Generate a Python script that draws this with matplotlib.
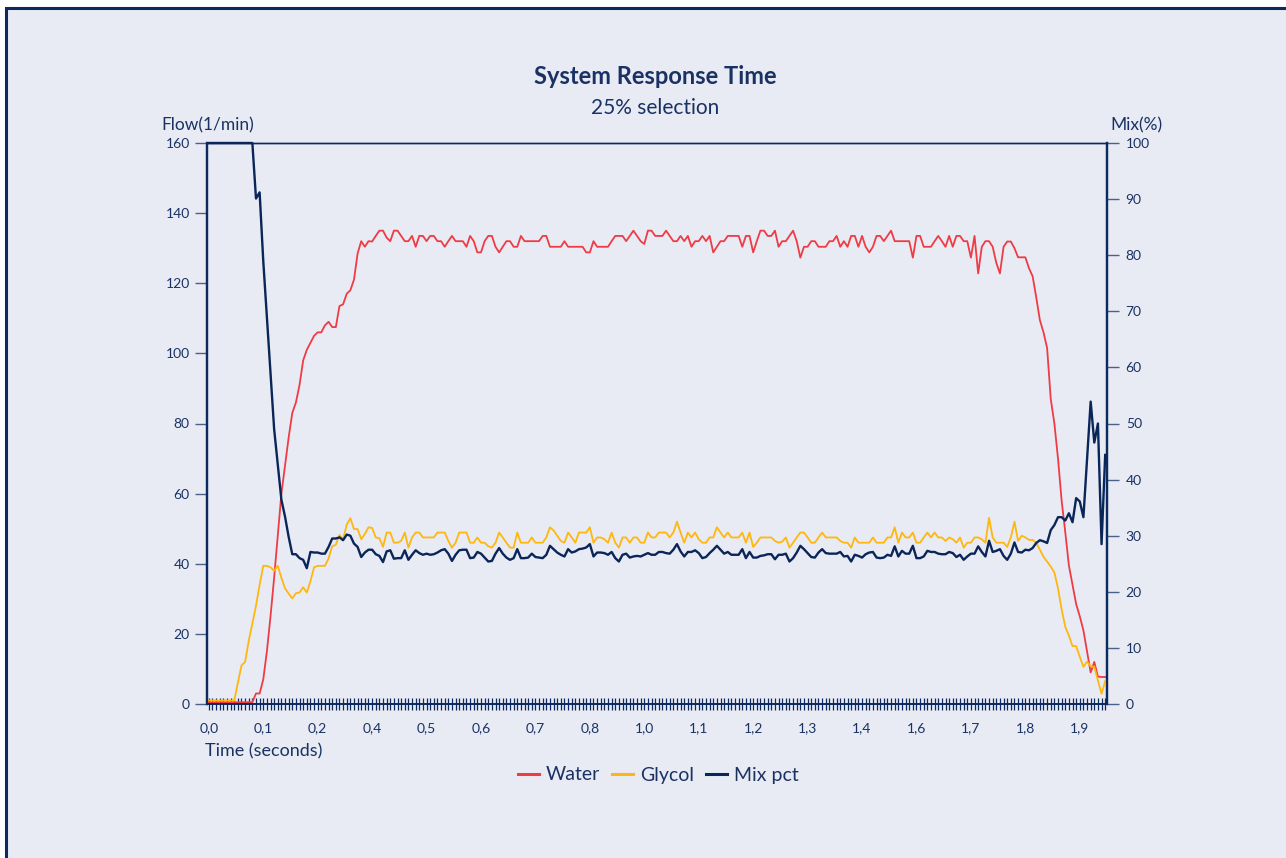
import matplotlib
matplotlib.use("Agg")
import matplotlib.pyplot as plt
from matplotlib.patches import Rectangle
from matplotlib.lines import Line2D

#%% data (one value per sample)
time_labels = ['0,0', '0,1', '0,2', '0,4', '0,5', '0,6', '0,7', '0,8', '1,0',
               '1,1', '1,2', '1,3', '1,4', '1,6', '1,7', '1,8', '1,9']
label_step = 15

water = [0.5, 0.5, 0.5, 0.5, 0.5, 0.5, 0.5, 0.5, 0.5, 0.5, 0.5, 0.5, 0.5,
         3, 3, 7, 15, 25, 36, 48, 60, 68, 76, 83,
         86, 91, 98, 101, 103, 105, 106, 106, 108, 109,
         107.5, 107.5, 113.5, 114, 117, 118, 121, 128.5, 132, 130.4,
         132, 131.9, 133.5, 135, 135, 133, 132, 135, 135, 133.5,
         132, 132, 133.5, 130.4, 133.5, 133.5, 132, 133.5, 133.5, 132,
         132, 130.4, 132, 133.5, 132, 132, 132, 130.4, 133.5, 132,
         128.8, 128.8, 132, 133.5, 133.5, 130.4, 128.8, 130.4, 132, 132,
         130.4, 130.4, 133.5, 132, 132, 132, 132, 132, 133.5, 133.5,
         130.4, 130.4, 130.4, 130.4, 132, 130.4, 130.4, 130.4, 130.4, 130.4,
         128.8, 128.8, 132, 130.4, 130.4, 130.4, 130.4, 132, 133.5, 133.5,
         133.5, 132, 133.5, 135, 133.5, 132, 131.2, 135, 135, 133.5,
         133.5, 133.5, 135, 133.5, 132, 132, 133.5, 132, 133.5, 130.4,
         132, 132,
         133.5, 132, 133.5, 128.8, 130.4, 132, 132, 133.5, 133.5, 133.5,
         133.5, 130.4, 133.5, 133.5, 128.8, 132, 135, 135, 133.5, 133.5,
         135, 130.4, 132, 132, 133.5, 135, 132, 127.3, 130.4, 130.4,
         132, 132, 130.4, 130.4, 130.4, 132, 132, 133.5, 130.4, 132,
         130.4, 133.5, 133.5, 130.4, 133.5, 130.4, 128.8, 130.4, 133.5, 133.5,
         132, 133.5, 135, 132, 132, 132, 132, 132, 127.3, 133.5,
         133.5, 130.4, 130.4, 130.4, 132, 133.5, 132, 130.4, 133.5, 130.4,
         133.5, 133.5, 132, 132, 127.3, 133.5, 122.8, 130.4, 132, 132,
         130.4, 125.8, 122.8, 130.4, 131.9, 131.9, 130, 127.4, 127.4, 127.4,
         124.3, 122, 116, 109.5, 106, 101.5, 87, 80, 70, 58,
         49, 39.5, 34, 28.5, 25, 21, 15, 9, 12, 7.8, 7.7, 7.7]

glycol = [1, 1, 1, 1, 1, 1, 1, 1,
          6, 11, 12, 18, 23, 28, 34, 39.4, 39.4, 39,
          38, 39.4, 36, 33, 31.5, 30.1, 31.6, 31.8, 33.3, 31.8,
          35, 39, 39.4, 39.4, 39.4, 41.5, 45, 45.4, 48.2, 47,
          51.1, 53, 49.9, 49.9, 47, 48.5,
          50.4, 50.2, 47.5, 47.3, 44.8, 48.9, 48.9, 46, 46, 46.5,
          48.9, 44.6, 47.5, 48.9, 48.9, 47.5, 47.5, 47.5, 47.5, 48.9,
          48.9, 48.9, 46.5, 44.6, 46, 48.9, 48.9, 48.9, 46, 46,
          47.5, 46, 46, 45, 44.6, 46, 48.9, 47.5, 46, 44.6,
          44.6, 48.9, 46, 46, 46, 47.5, 46, 46, 46, 47.5,
          50.4, 49.5, 48, 46.5, 46, 48.9, 47.5, 46, 48.9, 48.9,
          48.9, 50.4, 46, 47.5, 47.5, 47, 46, 48.9, 46, 44.6,
          47.5, 47.5, 46, 47.5, 47.5, 46, 46, 48.9, 47.5, 47.5,
          48.9, 48.9, 48.9, 47.5, 48.9, 52, 48.9, 46, 48.9, 47.5,
          48.9, 47,
          46, 46, 47.5, 47.5, 50.4, 48.9, 47.5, 48.9, 47.5, 47.5,
          47.5, 48.9, 46, 48.9, 44.8, 46, 47.5, 47.5, 47.5, 47.5,
          46.5, 46, 46.3, 47.5, 44.6, 46, 47.5, 48.9, 48.9, 47.5,
          46, 46, 47.5, 48.9, 47.5, 47.5, 47.5, 47.5, 46.5, 46,
          46, 44.6, 47.5, 46, 46, 46, 46, 47.5, 46, 46,
          46, 47.5, 47.5, 50.4, 46, 48.9, 47.5, 47.5, 48.9, 46,
          46, 47.5, 48.9, 47.5, 48.9, 47.5, 47.5, 46.5, 47.5, 47,
          46, 47.5, 44.6, 46, 46, 47.5, 47.5, 47, 46, 53.1,
          47.5, 46, 46, 46, 44.8, 47.5, 52, 46.5,
          48, 47.5, 46.8, 46.8, 46, 44, 42, 40.6, 39.2, 37.5, 33, 27,
          22, 19.5, 16.5, 16.5, 13.5, 10.6, 12.1, 10.8, 10.6, 6.8, 2.9, 6.5]

mix_pct = [100, 100, 100, 100, 100, 100, 100, 100, 100, 100, 100, 100, 100,
           90.1, 91.2, 79, 69, 59, 49, 42.7, 36.4, 33.4, 29.8,
           26.7, 26.7, 26, 25.7, 24.2, 27.1, 27, 27, 26.8, 26.8,
           28, 29.5, 29.5, 29.7, 29.2, 30.2, 30, 28.6, 28, 26.2, 27,
           27.5, 27.5, 26.7, 26.4, 25.3, 27.2, 27.4, 25.9, 26, 26,
           27.4, 25.7, 26.6, 27.4, 26.9, 26.6, 26.8, 26.6, 26.7, 27,
           27.4, 27.6, 26.8, 25.5, 26.6, 27.4, 27.5, 27.5, 26, 26.1,
           27.1, 26.8, 26.1, 25.4, 25.5, 26.8, 27.8, 26.8, 26.1, 25.7,
           26, 27.6, 26, 26, 26.1, 26.8, 26.2, 26.1, 26, 26.6,
           28.2, 27.6, 27, 26.6, 26.3, 27.6, 27, 27.2, 27.6, 27.7,
           27.9, 28.5, 26.3, 27, 27, 26.9, 26.6, 27.1, 26, 25.4,
           26.6, 26.8, 26.1, 26.3, 26.4, 26.3, 26.6, 26.9, 26.6, 26.6,
           27.1, 27.1, 26.9, 26.8, 27.5, 28.5, 27.2, 26.3, 27.1, 27.1,
           27.4, 26.9,
           26, 26.2, 26.9, 27.5, 28.2, 27.5, 26.8, 27.1, 26.6, 26.6,
           26.6, 27.6, 26, 27.1, 26.1, 26.1, 26.4, 26.5, 26.7, 26.7,
           25.8, 26.6, 26.6, 26.8, 25.4, 26, 27, 28.2, 27.6, 26.9,
           26.2, 26.1, 27, 27.6, 26.9, 26.8, 26.8, 26.8, 27.1, 26.3,
           26.4, 25.4, 26.6, 26.4, 26.1, 26.7, 27, 27.1, 26.1, 26,
           26.1, 26.6, 26.4, 28.1, 26.3, 27.3, 26.8, 26.8, 28.2, 26,
           26, 26.3, 27.3, 27.1, 27.1, 26.8, 26.7, 26.7, 27.1, 26.9,
           26.2, 26.6, 25.7, 26.3, 26.8, 26.8, 28.1, 27.1, 26.3, 29.1,
           27.1, 27.3, 27.6, 26.4, 25.7, 26.8, 28.8, 27.1,
           27, 27.5, 27.4, 27.8, 28.7, 29.2, 29, 28.7, 31, 31.9, 33.3, 33.3,
           32.7, 34, 32.4, 36.7, 36.1, 33.3, 43.5, 53.9, 46.6, 50, 28.5, 44.4]

#%% style
navy = '#0d2a5e'
txt = '#1a3263'
bg = '#e8ebf4'
c_water = '#ef3b44'
c_glycol = '#ffb70f'
c_mix = '#0a2557'

plt.rcParams['font.family'] = ['Lato', 'DejaVu Sans']

W, H = 1286, 858
fig = plt.figure(figsize=(W / 100, H / 100), dpi=100)
fig.patch.set_facecolor('white')
fig.patches.append(Rectangle((6 / W, -0.05), 1.2, 1 - 8 / H + 0.05,
                             transform=fig.transFigure, facecolor=bg,
                             edgecolor=navy, linewidth=2.2, zorder=-10))

ax = fig.add_axes([207 / W, 1 - 704 / H, 900 / W, 561 / H])
ax.set_facecolor('none')
ax2 = ax.twinx()

n = len(water)
idx = list(range(n))
ax.plot(idx, water, color=c_water, lw=1.3, zorder=3)
ax.plot(idx, glycol, color=c_glycol, lw=1.3, zorder=3)
ax2.plot(idx, mix_pct, color=c_mix, lw=1.7, zorder=4, clip_on=False)

ax.set_xlim(-0.5, n - 0.5)
ax.set_ylim(0, 160)
ax2.set_ylim(0, 100)
ax.set_yticks(range(0, 161, 20))
ax2.set_yticks(range(0, 101, 10))

xlabels = [''] * n
for k, lab in enumerate(time_labels):
    xlabels[k * label_step] = lab
ax.set_xticks(idx)
ax.set_xticklabels(xlabels)

for a in (ax, ax2):
    for s in a.spines.values():
        s.set_color(navy)
    a.spines['left'].set_linewidth(1.6)
    a.spines['right'].set_linewidth(1.6)
    a.spines['top'].set_linewidth(1.0)
    a.spines['bottom'].set_linewidth(1.3)

ax.tick_params(axis='x', direction='inout', length=8.5, width=0.9, color=navy,
               labelsize=10, labelcolor=txt, pad=9)
ax.tick_params(axis='y', direction='out', length=8.5, width=1.0, color='#4a5f8a',
               labelsize=10, labelcolor=txt, pad=4)
ax2.tick_params(axis='y', direction='out', length=8.5, width=1.0, color='#4a5f8a',
                labelsize=10, labelcolor=txt, pad=5)

#%% texts
fig.text(655 / W, 1 - 77 / H, 'System Response Time', ha='center', va='center',
         fontsize=17, fontweight='bold', color=txt)
fig.text(655 / W, 1 - 108 / H, '25% selection', ha='center', va='center',
         fontsize=15, color=txt)
fig.text(208 / W, 1 - 125 / H, 'Flow(1/min)', ha='center', va='center',
         fontsize=12.5, color=txt)
fig.text(1136 / W, 1 - 125 / H, 'Mix(%)', ha='center', va='center',
         fontsize=12.5, color=txt)
fig.text(205 / W, 1 - 751 / H, 'Time (seconds)', ha='left', va='center',
         fontsize=13, color=txt)

handles = [Line2D([], [], color=c_water, lw=2.2),
           Line2D([], [], color=c_glycol, lw=2.2),
           Line2D([], [], color=c_mix, lw=2.2)]
leg = fig.legend(handles, ['Water', 'Glycol', 'Mix pct'], loc='center',
                 bbox_to_anchor=(658 / W, 1 - 775 / H), ncol=3, frameon=False,
                 fontsize=14, handlelength=1.1, handletextpad=0.35,
                 columnspacing=0.6)
for t in leg.get_texts():
    t.set_color(txt)

fig.savefig('out.png', dpi=100, facecolor=fig.get_facecolor())
